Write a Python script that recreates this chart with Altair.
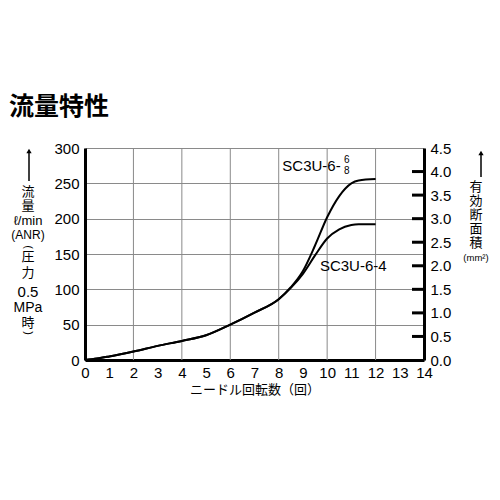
import altair as alt
import pandas as pd

# ---- data ----
turns = [0, 0.5, 1, 2, 3, 4, 5, 6, 7, 8, 8.5, 9, 9.5, 10, 10.5, 11, 11.3, 12]
flow_68 = [0, 2, 5, 12, 20, 27, 35, 50, 67, 86, 103, 126, 162, 202, 232, 250, 254, 256]
flow_64 = [0, 2, 5, 12, 20, 27, 35, 50, 67, 86, 102, 122, 148, 172, 185, 191, 192, 192]
series_names = ["SC3U-6-6/8", "SC3U-6-4"]

x_ticks = list(range(0, 15))
x_grid = [2, 4, 6, 8, 10, 12]
left_ticks = [0, 50, 100, 150, 200, 250, 300]
right_ticks = [0.0, 0.5, 1.0, 1.5, 2.0, 2.5, 3.0, 3.5, 4.0, 4.5]
right_inner_ticks = [0.5, 1.0, 1.5, 2.0, 2.5, 3.0, 3.5, 4.0]
LEFT_MAX, RIGHT_MAX = 300, 4.5

title_text = "流量特性"
x_title = "ニードル回転数（回）"
left_title_lines = ["流", "量", "ℓ/min", "(ANR)", "(", "圧", "力", "0.5", "MPa", "時", ")"]
right_title_lines = ["有", "効", "断", "面", "積", "(mm²)"]

label_upper = "SC3U-6-"
label_upper_num = "6"
label_upper_den = "8"
label_lower = "SC3U-6-4"

W, H = 339, 212
NUM_FONT = "Liberation Sans"
CJK_FONT = "Noto Sans CJK JP"

df = pd.DataFrame({
    "turns": turns * 2,
    "flow": flow_68 + flow_64,
    "series": [series_names[0]] * len(turns) + [series_names[1]] * len(turns),
})

xscale = alt.Scale(domain=[0, 14], nice=False, zero=False)
yscale = alt.Scale(domain=[0, LEFT_MAX], nice=False)
rscale = alt.Scale(domain=[0, RIGHT_MAX], nice=False)

x_axis = alt.Axis(values=x_ticks, title=x_title, grid=False, ticks=False,
                  domainColor="black", domainWidth=3, labelFont=NUM_FONT,
                  labelFontSize=15, labelColor="black", labelPadding=5,
                  labelOverlap=False, labelFlush=False,
                  titleFont=CJK_FONT, titleFontSize=13, titleFontWeight="normal",
                  titleColor="black", titlePadding=3)
y_axis = alt.Axis(values=left_ticks, title=None, grid=True, gridColor="#8a8a8a",
                  gridWidth=1, ticks=False, domainColor="black", domainWidth=3,
                  labelFont=NUM_FONT, labelFontSize=15, labelColor="black",
                  labelPadding=6, labelFlush=False, labelOverlap=False)

lines = alt.Chart(df).mark_line(color="black", strokeWidth=2, interpolate="monotone").encode(
    x=alt.X("turns:Q", scale=xscale, axis=x_axis),
    y=alt.Y("flow:Q", scale=yscale, axis=y_axis),
    detail="series:N",
)

vgrid = alt.Chart(pd.DataFrame({"g": x_grid})).mark_rule(color="#8a8a8a", strokeWidth=1).encode(
    x=alt.X("g:Q", scale=xscale, axis=x_axis)
)

# inward tick marks of the right-hand axis, placed on the shared plot
rticks = alt.Chart(pd.DataFrame({"r": right_inner_ticks})).transform_calculate(
    ry=f"datum.r * {LEFT_MAX} / {RIGHT_MAX}"
).mark_rule(color="black", strokeWidth=3).encode(
    y=alt.Y("ry:Q", scale=yscale, axis=y_axis),
    x=alt.value(W - 12),
    x2=alt.value(W),
)

ann = pd.DataFrame({
    "x": [8.15, 10.7, 10.7, 9.7],
    "y": [268, 279, 263, 126],
    "t": [label_upper, label_upper_num, label_upper_den, label_lower],
    "s": [15, 10, 10, 15],
})
ann_big = alt.Chart(ann[ann.s == 15]).mark_text(
    align="left", baseline="alphabetic", font=NUM_FONT, fontSize=15, color="black"
).encode(x=alt.X("x:Q", scale=xscale, axis=x_axis),
         y=alt.Y("y:Q", scale=yscale, axis=y_axis), text="t:N")
ann_small = alt.Chart(ann[ann.s == 10]).mark_text(
    align="left", baseline="alphabetic", font=NUM_FONT, fontSize=10, color="black"
).encode(x=alt.X("x:Q", scale=xscale, axis=x_axis),
         y=alt.Y("y:Q", scale=yscale, axis=y_axis), text="t:N")


def label(txt, x, y, size, font=CJK_FONT, weight="normal", align="center", angle=0):
    return alt.Chart(pd.DataFrame({"t": [txt]})).mark_text(
        font=font, fontSize=size, fontWeight=weight, color="black", align=align,
        baseline="middle", angle=angle
    ).encode(x=alt.value(x), y=alt.value(y), text="t:N")


texts = [label(title_text, -76, -41, 25, weight="bold", align="left")]

left_y = [44, 58, 73, 87, 99, 109, 125, 144, 160, 175, 185]
left_sizes = [13, 13, 13, 12, 11, 13, 13, 15, 14, 13, 11]
for t, yy, s in zip(left_title_lines, left_y, left_sizes):
    f = NUM_FONT if t in ("0.5", "MPa", "ℓ/min", "(ANR)", "(", ")") else CJK_FONT
    ang = 90 if t in ("(", ")") else 0
    texts.append(label(t, -57, yy, s, font=f, angle=ang))

right_y = [39, 53, 67, 81, 95, 110]
right_sizes = [13, 13, 13, 13, 13, 9.5]
for t, yy, s in zip(right_title_lines, right_y, right_sizes):
    texts.append(label(t, 391, yy, s, font=(NUM_FONT if t.startswith("(") else CJK_FONT)))


def arrow(x, y1, y2):
    base = alt.Chart(pd.DataFrame({"a": [0]}))
    shaft = base.mark_rule(color="black", strokeWidth=1.5).encode(
        x=alt.value(x), y=alt.value(y1 + 4), y2=alt.value(y2))
    head = base.mark_point(shape="triangle-up", filled=True, color="black", size=28, opacity=1).encode(
        x=alt.value(x), y=alt.value(y1 + 3))
    return [shaft, head]


arrows = arrow(-56, 0, 33) + arrow(396, 2, 29)

left_group = alt.layer(vgrid, lines, rticks, ann_big, ann_small, *texts, *arrows)

right = alt.Chart(pd.DataFrame({"r": right_ticks})).mark_point(opacity=0).encode(
    y=alt.Y("r:Q", scale=rscale,
            axis=alt.Axis(orient="right", values=right_ticks, format=".1f", title=None,
                          grid=False, ticks=False, domainColor="black", domainWidth=3,
                          labelFont=NUM_FONT, labelFontSize=15, labelColor="black",
                          labelPadding=6, labelFlush=False, labelOverlap=False)),
    x=alt.value(W),
)

chart = alt.layer(left_group, right).resolve_scale(y="independent").properties(
    width=W, height=H,
    autosize=alt.AutoSizeParams(type="none"),
    padding={"left": 77, "top": 140, "right": 66, "bottom": 100},
    background="white",
).configure_view(stroke=None)

chart.save("out.html", embed_options={"renderer": "svg", "actions": False})
